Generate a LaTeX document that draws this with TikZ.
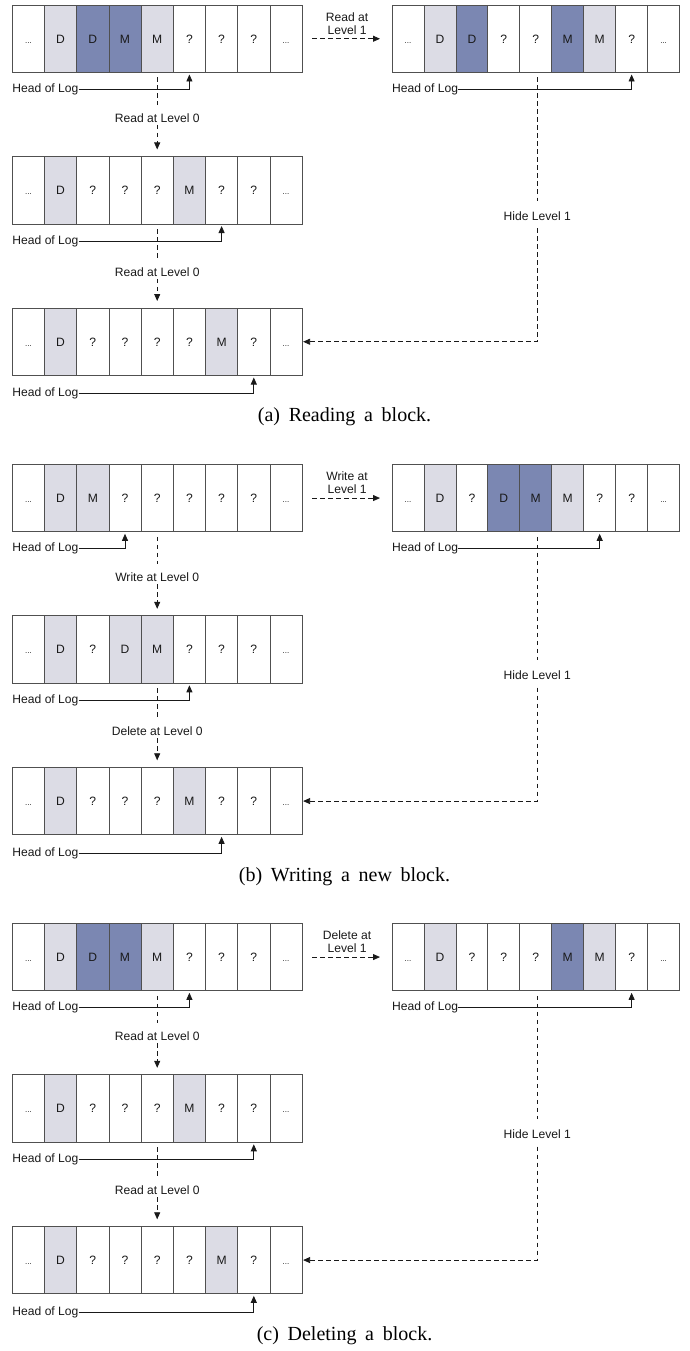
\documentclass[tikz,border=0pt]{standalone}
\usepackage{fontspec}
\setmainfont{Liberation Serif}
\setsansfont{Liberation Sans}
\usetikzlibrary{arrows.meta,calc}
\definecolor{lightc}{RGB}{220,220,229}
\definecolor{darkc}{RGB}{123,135,178}
\definecolor{edgec}{RGB}{80,80,80}
\definecolor{inkc}{RGB}{25,25,25}
\newcommand\dts{{\fontsize{8}{8}\selectfont...}}
\newcommand\logstrip[5]{%
  \foreach[count=\i] \f/\t in {#5}{%
    \node[cell=#4,\f] (#1\i) at ({#2+(\i-1)*#4},{-(#3)}) {\t};
  }%
}
\newcommand\panelconn[9]{%
  \foreach \s/\k/\x/\dy in {A/#3/12.3/84,B/#4/392/84,C/#5/12.3/236.3,D/#6/12.3/388.7}{%
    \node[hol] (#1hd\s) at (\x,{-(#2+\dy)}) {Head of Log};
    \draw[conn,arr,shorten >=2pt] (#1hd\s.east) -| (#1\s\k.south);
  }%
  \draw[dsh,arr,shorten <=10pt,shorten >=12pt] (#1A9.east) -- (#1B1.west);
  \node[lbl,align=center] (#1lv) at ($(#1A9.east)!0.5!(#1B1.west)+(0,15.4)$) {#7};
  \node[lbl] (#1ma) at ($(#1A5.south)+(0,-45.8)$) {#8};
  \draw[dsh,shorten <=5pt,shorten >=9pt] (#1A5.south) -- (#1ma.north);
  \draw[dsh,arr,shorten <=2pt,shorten >=7pt] (#1ma.south) -- (#1C5.north);
  \node[lbl] (#1mc) at ($(#1C5.south)+(0,-48.2)$) {#9};
  \draw[dsh,shorten <=5pt,shorten >=9pt] (#1C5.south) -- (#1mc.north);
  \draw[dsh,arr,shorten <=2pt,shorten >=7pt] (#1mc.south) -- (#1D5.north);
  \node[lbl] (#1hi) at ($(#1B5.south)+(1.5,-143.2)$) {Hide Level 1};
  \draw[dsh,shorten <=5pt,shorten >=10pt] (#1B5.south -| #1hi.north) -- (#1hi.north);
  \draw[dsh,arr,shorten <=8pt,shorten >=1pt] (#1hi.south) |- (#1D9.east);
}
\tikzset{
  cell/.style={draw=edgec,line width=0.8pt,minimum width=#1pt,minimum height=67.5pt,
    inner sep=0pt,outer sep=0pt,anchor=north west,text height=8.7pt,text depth=0pt,
    font=\sffamily\fontsize{12.1}{13.3}\selectfont,text=inkc},
  ce/.style={fill=white},
  cl/.style={fill=lightc},
  cd/.style={fill=darkc},
  hol/.style={anchor=west,inner sep=0pt,font=\sffamily\fontsize{12.1}{13.3}\selectfont,text=inkc},
  lbl/.style={inner sep=0pt,font=\sffamily\fontsize{12.1}{13.3}\selectfont,text=inkc},
  conn/.style={draw=inkc,line width=0.8pt},
  arr/.style={-{Triangle[length=7pt,width=6pt]}},
  dsh/.style={draw=inkc,line width=0.8pt,dash pattern=on 4.5pt off 3.5pt},
  captxt/.style={anchor=base,inner sep=0pt,font=\fontsize{20}{24}\selectfont,text=black}
}
\begin{document}
\begin{tikzpicture}[x=1pt,y=1pt]
\useasboundingbox[fill=white] (0,0) rectangle (689,-1351);
% ---------------- (a)
\logstrip{aA}{12.3}{5}{32.2}{ce/\dts,cl/D,cd/D,cd/M,cl/M,ce/?,ce/?,ce/?,ce/\dts}
\logstrip{aB}{392}{5}{31.95}{ce/\dts,cl/D,cd/D,ce/?,ce/?,cd/M,cl/M,ce/?,ce/\dts}
\logstrip{aC}{12.3}{156.5}{32.2}{ce/\dts,cl/D,ce/?,ce/?,ce/?,cl/M,ce/?,ce/?,ce/\dts}
\logstrip{aD}{12.3}{308}{32.2}{ce/\dts,cl/D,ce/?,ce/?,ce/?,ce/?,cl/M,ce/?,ce/\dts}
\panelconn{a}{5}{6}{8}{7}{8}{Read at\\Level 1}{Read at Level 0}{Read at Level 0}
\node[captxt] (acap) at (344.5,-421.7) {\spaceskip=8.7pt (a) Reading a block.};
% ---------------- (b)
\logstrip{bA}{12.3}{464.3}{32.2}{ce/\dts,cl/D,cl/M,ce/?,ce/?,ce/?,ce/?,ce/?,ce/\dts}
\logstrip{bB}{392}{464.3}{31.95}{ce/\dts,cl/D,ce/?,cd/D,cd/M,cl/M,ce/?,ce/?,ce/\dts}
\logstrip{bC}{12.3}{615.8}{32.2}{ce/\dts,cl/D,ce/?,cl/D,cl/M,ce/?,ce/?,ce/?,ce/\dts}
\logstrip{bD}{12.3}{767.3}{32.2}{ce/\dts,cl/D,ce/?,ce/?,ce/?,cl/M,ce/?,ce/?,ce/\dts}
\panelconn{b}{464.3}{4}{7}{6}{7}{Write at\\Level 1}{Write at Level 0}{Delete at Level 0}
\node[captxt] (bcap) at (344.5,-881) {\spaceskip=8.7pt (b) Writing a new block.};
% ---------------- (c)
\logstrip{cA}{12.3}{923.3}{32.2}{ce/\dts,cl/D,cd/D,cd/M,cl/M,ce/?,ce/?,ce/?,ce/\dts}
\logstrip{cB}{392}{923.3}{31.95}{ce/\dts,cl/D,ce/?,ce/?,ce/?,cd/M,cl/M,ce/?,ce/\dts}
\logstrip{cC}{12.3}{1074.8}{32.2}{ce/\dts,cl/D,ce/?,ce/?,ce/?,cl/M,ce/?,ce/?,ce/\dts}
\logstrip{cD}{12.3}{1226.3}{32.2}{ce/\dts,cl/D,ce/?,ce/?,ce/?,ce/?,cl/M,ce/?,ce/\dts}
\panelconn{c}{923.3}{6}{8}{8}{8}{Delete at\\Level 1}{Read at Level 0}{Read at Level 0}
\node[captxt] (ccap) at (344.5,-1340) {\spaceskip=8.7pt (c) Deleting a block.};
\end{tikzpicture}
\end{document}
